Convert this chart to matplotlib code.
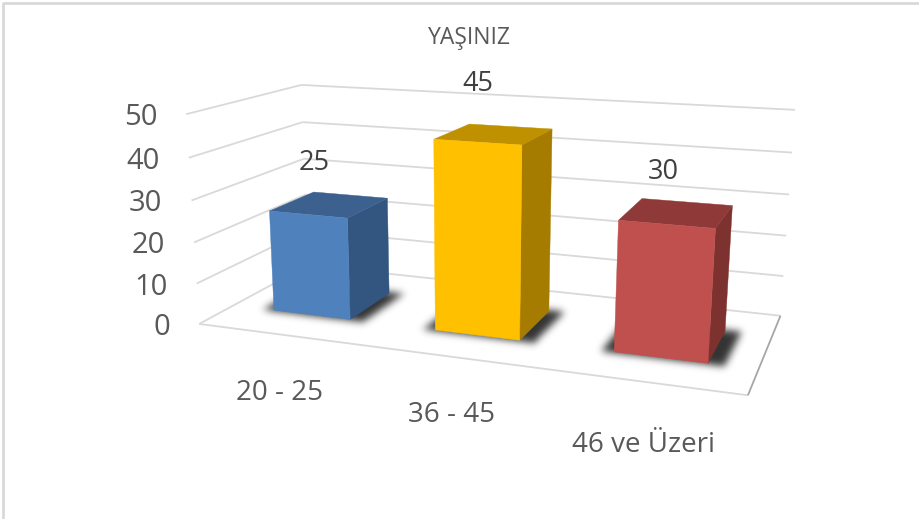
import numpy as np
import matplotlib
matplotlib.use("Agg")
import matplotlib.pyplot as plt
from matplotlib.patches import Polygon
from matplotlib.path import Path

# ---- data ----
title = "YAŞINIZ"
categories = ["20 - 25", "36 - 45", "46 ve Üzeri"]
values = [25, 45, 30]
y_ticks = [0, 10, 20, 30, 40, 50]

# ---- style ----
front_colors = ["#4F81BD", "#FFC000", "#C0504D"]
top_colors = ["#3C618F", "#BF9000", "#8F3A38"]
side_colors = ["#325680", "#A67C00", "#7D322F"]
GRID = "#D9D9D9"
TXT = "#595959"
LBL = "#404040"
plt.rcParams["font.family"] = ["Open Sans", "DejaVu Sans"]

# ---- view calibration: frame corner (cat, value, depth) -> canvas pixel ----
frame_world = [(0, 0, 0), (3, 0, 0), (3, 0, 1), (0, 0, 1),
               (0, 50, 0), (0, 50, 1), (3, 50, 1),
               (0, 40, 0), (0, 40, 1), (3, 40, 1),
               (0, 20, 0), (3, 20, 1), (3, 10, 1), (0, 10, 0)]
frame_px = [(200, 324), (748, 395), (781, 316), (307, 265),
            (186, 114), (302, 85), (795, 110),
            (188, 158), (303, 122), (792, 152),
            (194, 243), (786, 236), (783, 276), (197, 283)]


def fit_view(world, px):
    rows = []
    for (x, v, d), (u, w) in zip(world, px):
        X = np.array([x / 3, v / 50, d, 1.0])
        u, w = u / 1000, w / 1000
        rows.append(np.r_[X, np.zeros(4), -u * X])
        rows.append(np.r_[np.zeros(4), X, -w * X])
    return np.linalg.svd(np.array(rows))[2][-1].reshape(3, 4)


P = fit_view(frame_world, frame_px)


def proj(x, v, d):
    h = P @ np.array([x / 3, v / 50, d, 1.0])
    return 1000 * h[0] / h[2], 1000 * h[1] / h[2]


fig = plt.figure(figsize=(9.2, 5.19), dpi=100, facecolor="white")
ax = fig.add_axes([0, 0, 1, 1])
ax.axis("off")

# chart-area border
ax.plot([3.5, 3.5, 920], [519, 2.5, 2.5], color=GRID, lw=2, zorder=1)


def seg(a, b, **kw):
    pa, pb = proj(*a), proj(*b)
    ax.plot([pa[0], pb[0]], [pa[1], pb[1]], solid_capstyle="butt", **kw)


# walls and floor
for t in y_ticks:
    seg((0, t, 0), (0, t, 1), color=GRID, lw=1.3, zorder=2)
    seg((0, t, 1), (3, t, 1), color=GRID, lw=1.3, zorder=2)
seg((0, 0, 0), (3, 0, 0), color=GRID, lw=1.3, zorder=2)
seg((3, 0, 0), (3, 0, 1), color="#A6A6A6", lw=1.3, zorder=2)

# ---- bars ----
half = 0.2425
shift = 0.0075
d0, d1 = 0.285, 0.70


def quad(corners, color, z):
    ax.add_patch(Polygon([proj(*c) for c in corners], closed=True,
                         facecolor=color, edgecolor=color, lw=0.3, zorder=z))


# soft contact shadow: footprints rasterised and blurred
W, H = 920, 519
gx, gy = np.meshgrid(np.arange(W) + 0.5, np.arange(H) + 0.5)
cells = np.c_[gx.ravel(), gy.ravel()]
mask = np.zeros((H, W))
for i in range(len(values)):
    xl, xr = i + 0.5 + shift - half, i + 0.5 + shift + half
    foot = [(xl - 0.065, 0, d0 - 0.012), (xr + 0.085, 0, d0 - 0.012),
            (xr + 0.085, 0, d1 + 0.02), (xl - 0.065, 0, d1 + 0.02)]
    mask += Path([proj(*c) for c in foot] + [proj(*foot[0])]).contains_points(cells).reshape(H, W)
r = np.arange(-12, 13)
kernel = np.exp(-r ** 2 / (2 * 3.8 ** 2))
kernel /= kernel.sum()
mask = np.apply_along_axis(lambda a: np.convolve(a, kernel, mode="same"), 0, mask)
mask = np.apply_along_axis(lambda a: np.convolve(a, kernel, mode="same"), 1, mask)
rgba = np.zeros((H, W, 4))
rgba[..., 3] = np.clip(mask, 0, 1) * 0.8
ax.imshow(rgba, extent=(0, W, H, 0), aspect="auto", interpolation="bilinear", zorder=3)
ax.set_xlim(0, 920)
ax.set_ylim(519, 0)

label_offsets = [(-16, -41), (-16, -50), (-14, -41)]
for i, val in enumerate(values):
    xl, xr = i + 0.5 + shift - half, i + 0.5 + shift + half
    quad([(xr, 0, d0), (xr, 0, d1), (xr, val, d1), (xr, val, d0)], side_colors[i], 4)
    quad([(xl, val, d0), (xr, val, d0), (xr, val, d1), (xl, val, d1)], top_colors[i], 4)
    quad([(xl, 0, d0), (xr, 0, d0), (xr, val, d0), (xl, val, d0)], front_colors[i], 5)
    cx, cy = proj(i + 0.5 + shift, val, (d0 + d1) / 2)
    ax.text(cx + label_offsets[i][0], cy + label_offsets[i][1], str(val), color=LBL,
            fontsize=19.5, ha="center", va="center", zorder=6)

# ---- text ----
for t in y_ticks:
    x, y = proj(0, t, 0)
    ax.text(x - 29, y + 3.5, str(t), color=TXT, fontsize=21,
            ha="right", va="center", zorder=6)

cat_offsets = [(1, 59), (0, 58), (0, 63)]
for i, name in enumerate(categories):
    x, y = proj(i + 0.5, 0, 0)
    ax.text(x + cat_offsets[i][0], y + cat_offsets[i][1], name, color=TXT,
            fontsize=20, ha="center", va="center", zorder=6)

ax.text(469, 38.5, title, color=TXT, fontsize=16.5, ha="center", va="center", zorder=6)

fig.savefig("out.png", dpi=100, facecolor="white")
